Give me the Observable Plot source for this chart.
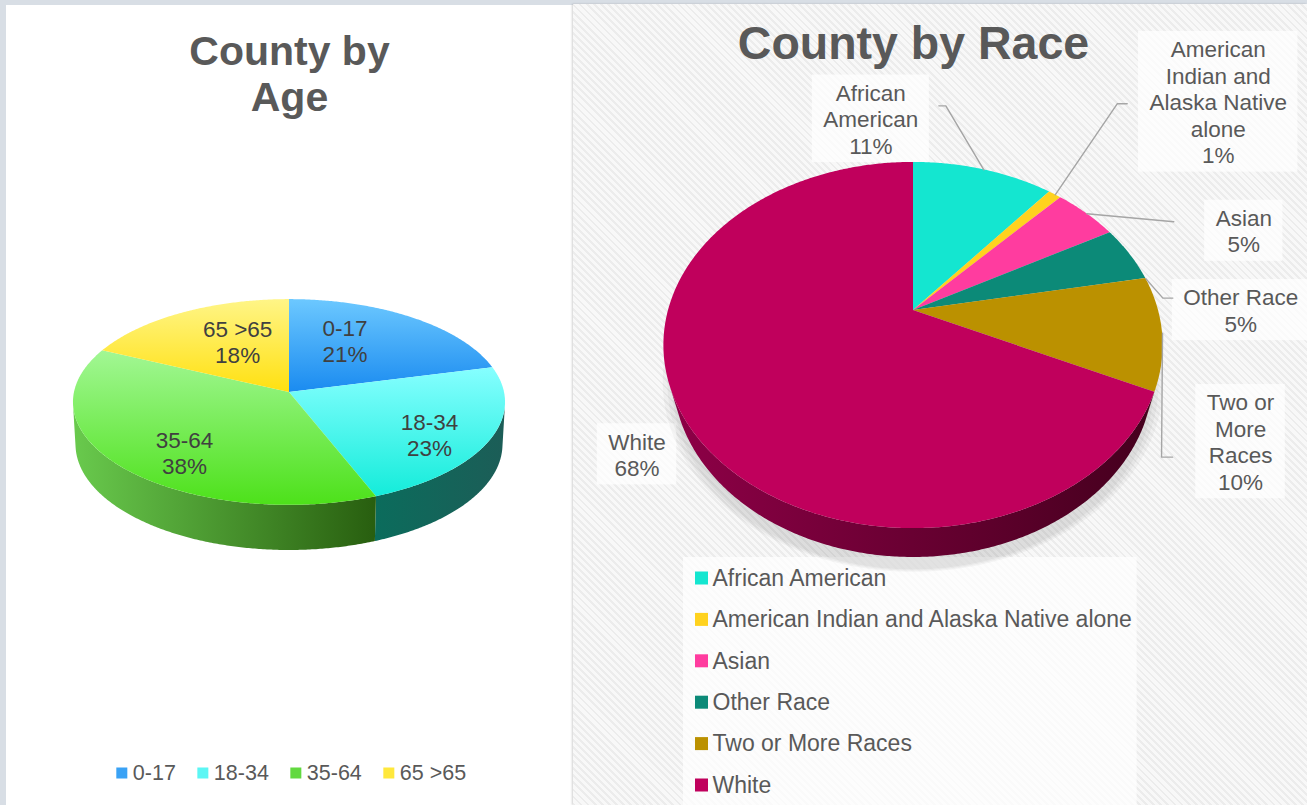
<!DOCTYPE html>
<html><head><meta charset="utf-8">
<script src="https://cdn.jsdelivr.net/npm/d3@7"></script>
<script src="https://cdn.jsdelivr.net/npm/@observablehq/plot@0.6"></script>
<style>
body{margin:0;background:#d8dee5;width:1307px;height:805px;overflow:hidden;position:relative;font-family:"Liberation Sans",Arial,sans-serif}
#left{position:absolute;left:6px;top:5px;width:567px;height:800px;background:#fff}
#right{position:absolute;left:573px;top:4px;width:734px;height:801px;background:repeating-linear-gradient(45deg,#ececec 0 2px,#f8f8f8 2px 5px);box-shadow:-1px 0 2px rgba(0,0,0,0.18)}
#chart{position:absolute;left:0;top:0}
</style></head><body>
<div id="left"></div><div id="right"></div><div id="chart"></div>
<script>
// ---------- DATA ----------
const ageCategories = ["0-17", "18-34", "35-64", "65 >65"];
const ageValues = [21, 23, 38, 18];
const ageTitle = ["County by", "Age"];

const raceCategories = ["African American", "American Indian and Alaska Native alone", "Asian", "Other Race", "Two or More Races", "White"];
const raceValues = [11, 1, 5, 5, 10, 68];
const raceLabelLines = [["African", "American"], ["American", "Indian and", "Alaska Native", "alone"], ["Asian"], ["Other Race"], ["Two or", "More", "Races"], ["White"]];
const raceTitle = "County by Race";

// ---------- STYLE / LAYOUT ----------
const W = 1307, H = 805;
const FONT = "Liberation Sans, Arial, sans-serif";
const agePie = {cx: 289, cy: 392, R: 215, tilt: Math.asin(0.474), D: 9.07, depth: 0.225};
const racePie = {cx: 913, cy: 310, R: 245, tilt: Math.asin(0.72), D: 3.63, depth: 0.193};
const ageTop = [["#6cc8ff", "#1a8bf0"], ["#86ffff", "#14ecda"], ["#a2f794", "#4de11a"], ["#fff587", "#ffe010"]];
const ageSide = [["#1b6fb8", "#145a96"], ["#0b6c5c", "#1c5d57"], ["#69ca4d", "#285e0f"], ["#c8b000", "#a08c00"]];
const ageLegendColors = ["#3aa2f5", "#5cf6f4", "#62d940", "#ffe83c"];
const raceTop = ["#14e6d0", "#ffd21e", "#ff3c9f", "#0c8a78", "#bb9100", "#c0005c"];
const raceSide = [["#0a7a6e", "#08665c"], ["#a88a10", "#907510"], ["#a02566", "#8a1f58"], ["#06544a", "#05463e"], ["#6f5600", "#5e4800"], ["#8e0047", "#44001d"]];
const ageLabelOffset = [[-20, -6], [22, 13.5], [-7, 17], [14, -2]];
const raceLabelLayout = [
  {frac: 0.5, dx: -113, dy: -51, leader: [[75, -13], [68, -13]]},
  {frac: 0.5, dx: 163, dy: -93, leader: [[-101, 2], [-91, 2]]},
  {frac: 0.5, dx: 157, dy: 17, leader: [[-70, -9]]},
  {frac: 1.0, dx: 95, dy: 31.5, leader: [[-78, -12], [-68, -12]]},
  {frac: 0.5, dx: 78, dy: 108.5, leader: [[-79, 15.5], [-68, 15.5]]},
  {frac: 0.5, dx: -46, dy: 38.5, leader: null}
];

// ---------- GEOMETRY ----------
function projector(p) {
  const s = Math.sin(p.tilt), c = Math.cos(p.tilt);
  return (a, r, h) => {
    const u = r * Math.sin(a), v = r * Math.cos(a);
    const z = p.D + v * c - h * s;
    const yc = v * s + h * c;
    return [p.cx + p.R * p.D * u / z, p.cy - p.R * p.D * yc / z];
  };
}
function angles(a0, a1) {
  const n = Math.max(2, Math.ceil((a1 - a0) / (Math.PI / 360)) + 1);
  return d3.range(n).map(i => a0 + (a1 - a0) * i / (n - 1));
}
const pieLayout = vals => d3.pie().sort(null).value(d => d)(vals);

function topRows(pie, arcs, prefix) {
  const P = projector(pie), rows = [];
  arcs.forEach((ar, i) => {
    const [x0, y0] = P(0, 0, 0);
    for (const a of angles(ar.startAngle, ar.endAngle)) {
      const [x, y] = P(a, 1, 0);
      rows.push({key: prefix + i, x1: x0, y1: y0, x2: x, y2: y, fill: `url(#${prefix}Top${i})`});
    }
  });
  return rows;
}
function sideRows(pie, arcs, prefix) {
  const P = projector(pie), c = Math.cos(pie.tilt);
  const amin = Math.acos(-1 / (pie.D * c)), amax = 2 * Math.PI - amin;
  const rows = [];
  arcs.forEach((ar, i) => {
    const lo = Math.max(ar.startAngle, amin), hi = Math.min(ar.endAngle, amax);
    if (hi <= lo) return;
    for (const a of angles(lo, hi)) {
      const [xt, yt] = P(a, 1, 0), [xb, yb] = P(a, 1, -pie.depth);
      rows.push({key: prefix + "s" + i, x1: xb, y1: yb, x2: xt, y2: yt, fill: `url(#${prefix}Side${i})`});
    }
  });
  return rows;
}
function shadowRows(pie) {
  const P = projector(pie), rows = [];
  [1.045, 1.03, 1.015].forEach((k, j) => {
    const h = -pie.depth - 0.02 * (j + 1);
    const [x0, y0] = P(0, 0, h);
    for (const a of angles(0, 2 * Math.PI)) {
      const [x, y] = P(a, k, h);
      rows.push({key: "sh" + j, x1: x0, y1: y0, x2: x, y2: y, fill: "rgba(0,0,0,0.035)"});
    }
  });
  return rows;
}

const ageArcs = pieLayout(ageValues);
const raceArcs = pieLayout(raceValues);
const PA = projector(agePie), PR = projector(racePie);

// text measuring
const ctx = document.createElement("canvas").getContext("2d");
const tw = (s, size, weight = "normal") => { ctx.font = `${weight} ${size}px "Liberation Sans"`; return ctx.measureText(s).width; };

// age labels
const LBL = 22.5;
const ageLabels = ageArcs.map((ar, i) => {
  const [x, y] = PA((ar.startAngle + ar.endAngle) / 2, 0.6, 0);
  return {x: x + ageLabelOffset[i][0], y: y + ageLabelOffset[i][1], text: `${ageCategories[i]}\n${ageValues[i]}%`};
});

// race labels, leaders, boxes
const raceLabels = [], raceLeaders = [], raceBoxes = [];
raceArcs.forEach((ar, i) => {
  const L = raceLabelLayout[i];
  const [ax, ay] = PR(ar.startAngle + L.frac * (ar.endAngle - ar.startAngle), 1, 0);
  const x = ax + L.dx, y = ay + L.dy;
  const lines = [...raceLabelLines[i], `${raceValues[i]}%`];
  raceLabels.push({x, y, text: lines.join("\n")});
  const w = d3.max(lines, s => tw(s, LBL)) + 22, h = lines.length * LBL * 1.18 + 8;
  raceBoxes.push({x1: x - w / 2, x2: x + w / 2, y1: y - h / 2, y2: y + h / 2});
  if (L.leader) {
    raceLeaders.push({k: i, x: ax, y: ay});
    L.leader.forEach(([ex, ey]) => raceLeaders.push({k: i, x: x + ex, y: y + ey}));
  }
});

// age legend (horizontal, centred under pie)
const ALEG = 21.5, sq = 11, gap = 5, itemGap = 22;
const widths = ageCategories.map(s => tw(s, ALEG));
const total = d3.sum(widths) + ageCategories.length * (sq + gap) + itemGap * (ageCategories.length - 1);
let cursor = agePie.cx + 2 - total / 2;
const ageLegRows = ageCategories.map((s, i) => {
  const r = {x1: cursor, x2: cursor + sq, y1: 773 - sq / 2, y2: 773 + sq / 2, tx: cursor + sq + gap, ty: 773, text: s, fill: ageLegendColors[i]};
  cursor += sq + gap + widths[i] + itemGap;
  return r;
});

// race legend (vertical)
const RLEG = 23, rsq = 13, rowH = 41.4, legX = 695, legY0 = 578;
const raceLegRows = raceCategories.map((s, i) => ({
  x1: legX, x2: legX + rsq, y1: legY0 + i * rowH - rsq / 2, y2: legY0 + i * rowH + rsq / 2,
  tx: legX + rsq + 4, ty: legY0 + i * rowH, text: s, fill: raceTop[i]
}));
const legW = d3.max(raceCategories, s => tw(s, RLEG));
const raceLegBox = [{x1: legX - 12, x2: legX + rsq + 4 + legW + 4, y1: legY0 - 21, y2: H}];

// gradient defs
function gradientDefs() {
  const ns = "http://www.w3.org/2000/svg";
  const defs = document.createElementNS(ns, "defs");
  const add = (id, c0, c1, horizontal) => {
    const g = document.createElementNS(ns, "linearGradient");
    g.setAttribute("id", id);
    g.setAttribute("x1", "0"); g.setAttribute("y1", "0");
    g.setAttribute("x2", horizontal ? "1" : "0"); g.setAttribute("y2", horizontal ? "0" : "1");
    [[0, c0], [1, c1]].forEach(([o, c]) => {
      const s = document.createElementNS(ns, "stop");
      s.setAttribute("offset", o); s.setAttribute("stop-color", c); g.appendChild(s);
    });
    defs.appendChild(g);
  };
  ageTop.forEach((c, i) => add(`ageTop${i}`, c[0], c[1], false));
  ageSide.forEach((c, i) => add(`ageSide${i}`, c[0], c[1], true));
  raceTop.forEach((c, i) => add(`raceTop${i}`, c, c, false));
  raceSide.forEach((c, i) => add(`raceSide${i}`, c[0], c[1], true));
  return defs;
}

const areaOpts = {x1: "x1", y1: "y1", x2: "x2", y2: "y2", z: "key", fill: "fill"};

const chart = Plot.plot({
  width: W, height: H,
  margin: 0,
  x: {type: "linear", domain: [0, W], range: [0, W], axis: null},
  y: {type: "linear", domain: [0, H], range: [0, H], axis: null},
  color: {type: "identity"},
  style: {background: "transparent", fontFamily: FONT, overflow: "visible"},
  marks: [
    gradientDefs,
    // titles
    Plot.text([{x: agePie.cx, y: 73, t: ageTitle.join("\n")}], {x: "x", y: "y", text: "t", fontSize: 41, fontWeight: "bold", lineHeight: 1.12, fill: "#595959", fontFamily: FONT}),
    Plot.text([{x: racePie.cx, y: 44, t: raceTitle}], {x: "x", y: "y", text: "t", fontSize: 46.5, fontWeight: "bold", fill: "#595959", fontFamily: FONT}),
    // race label boxes & legend box
    Plot.rect(raceBoxes, {x1: "x1", x2: "x2", y1: "y1", y2: "y2", fill: "#ffffff", fillOpacity: 0.72}),
    Plot.rect(raceLegBox, {x1: "x1", x2: "x2", y1: "y1", y2: "y2", fill: "#ffffff", fillOpacity: 0.72}),
    // race pie
    Plot.area(shadowRows(racePie), areaOpts),
    Plot.area(sideRows(racePie, raceArcs, "race"), areaOpts),
    Plot.area(topRows(racePie, raceArcs, "race"), areaOpts),
    // age pie
    Plot.area(sideRows(agePie, ageArcs, "age"), areaOpts),
    Plot.area(topRows(agePie, ageArcs, "age"), areaOpts),
    // age labels
    Plot.text(ageLabels, {x: "x", y: "y", text: "text", fontSize: LBL, lineHeight: 1.16, fill: "#404040", fontFamily: FONT}),
    // race labels & leaders
    Plot.line(raceLeaders, {x: "x", y: "y", z: "k", stroke: "#a5a5a5", strokeWidth: 1.4}),
    Plot.text(raceLabels, {x: "x", y: "y", text: "text", fontSize: LBL, lineHeight: 1.18, fill: "#595959", fontFamily: FONT}),
    // legends
    Plot.rect(ageLegRows, {x1: "x1", x2: "x2", y1: "y1", y2: "y2", fill: "fill"}),
    Plot.text(ageLegRows, {x: "tx", y: "ty", text: "text", textAnchor: "start", fontSize: ALEG, fill: "#595959", fontFamily: FONT}),
    Plot.rect(raceLegRows, {x1: "x1", x2: "x2", y1: "y1", y2: "y2", fill: "fill"}),
    Plot.text(raceLegRows, {x: "tx", y: "ty", text: "text", textAnchor: "start", fontSize: RLEG, fill: "#595959", fontFamily: FONT})
  ]
});
document.getElementById("chart").appendChild(chart);
</script>
</body></html>
